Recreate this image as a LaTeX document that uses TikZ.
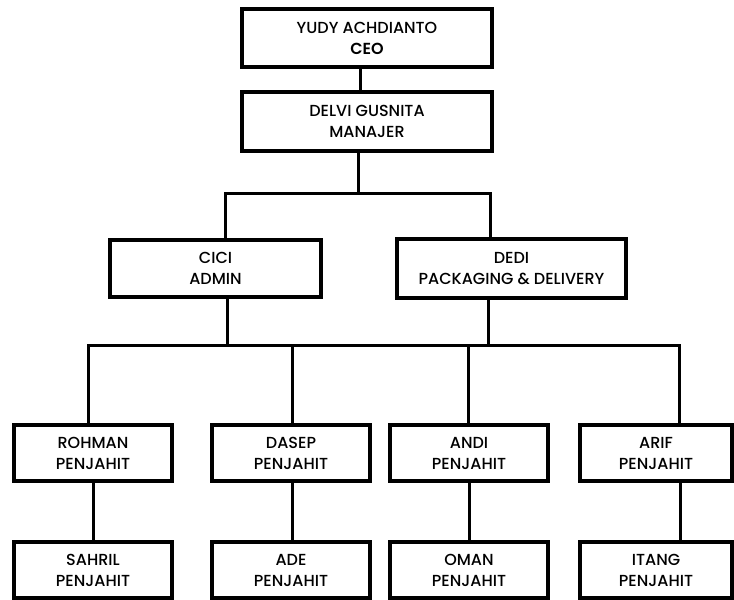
\documentclass[tikz,border=0pt]{standalone}
\usepackage{fontspec}
\setmainfont{Poppins}[UprightFont=* Medium, BoldFont=* SemiBold]
\tikzset{>=latex}

\begin{document}
\begin{tikzpicture}[x=1pt, y=-1pt,
    box/.style={draw, line width=4pt, fill=white, align=center, inner sep=0pt,
      minimum height=56pt, font=\fontsize{16}{21}\selectfont},
    link/.style={line width=3pt}]
  \useasboundingbox (0,0) rectangle (734,600);
  % top of the chart
  \node[box, minimum width=250pt, minimum height=58pt] (ceo) at (367,38) {YUDY ACHDIANTO\\\textbf{CEO}};
  \node[box, minimum width=250pt, minimum height=59pt] (mgr) at (367,121.5) {DELVI GUSNITA\\MANAJER};
  \node[box, minimum width=211pt, minimum height=57pt] (cici) at (215.5,268.5) {CICI\\ADMIN};
  \node[box, minimum width=229pt, minimum height=59pt] (dedi) at (511.5,268.5) {DEDI\\PACKAGING \& DELIVERY};
  \coordinate (bus1) at (358,193);
  \coordinate (bus2) at (227,345);
  \draw[link] ([xshift=-7pt]ceo.south) -- ([xshift=-7pt]mgr.north);
  \draw[link] ([xshift=-9pt]mgr.south) -- (bus1);
  \draw[link] ([xshift=9.5pt]cici.north) |- (bus1) -| ([xshift=-21.5pt]dedi.north);
  \draw[link] ([xshift=11.5pt]cici.south) -- (bus2);
  \draw[link] ([xshift=-23.5pt]dedi.south) |- (bus2);
  % penjahit, two rows
  \foreach \i/\x/\w/\up/\dn/\nama/\namb in {1/93/158/-5/0/ROHMAN/SAHRIL,
      2/291/158/1/1/DASEP/ADE, 3/469/158/-1/0/ANDI/OMAN, 4/656/152/23/24/ARIF/ITANG} {
    \node[box, minimum width=\w pt] (pj\i) at (\x,453) {\nama\\PENJAHIT};
    \node[box, minimum width=\w pt] (pk\i) at (\x,570) {\namb\\PENJAHIT};
    \draw[link] ([xshift=\dn pt]pj\i.south) -- ([xshift=\dn pt]pk\i.north);
  }
  \draw[link] ([xshift=-5pt]pj1.north) |- (bus2) -| ([xshift=23pt]pj4.north);
  \draw[link] ([xshift=1pt]pj2.north) -- ([xshift=1pt]pj2.north |- bus2);
  \draw[link] ([xshift=-1pt]pj3.north) -- ([xshift=-1pt]pj3.north |- bus2);
\end{tikzpicture}
\end{document}
